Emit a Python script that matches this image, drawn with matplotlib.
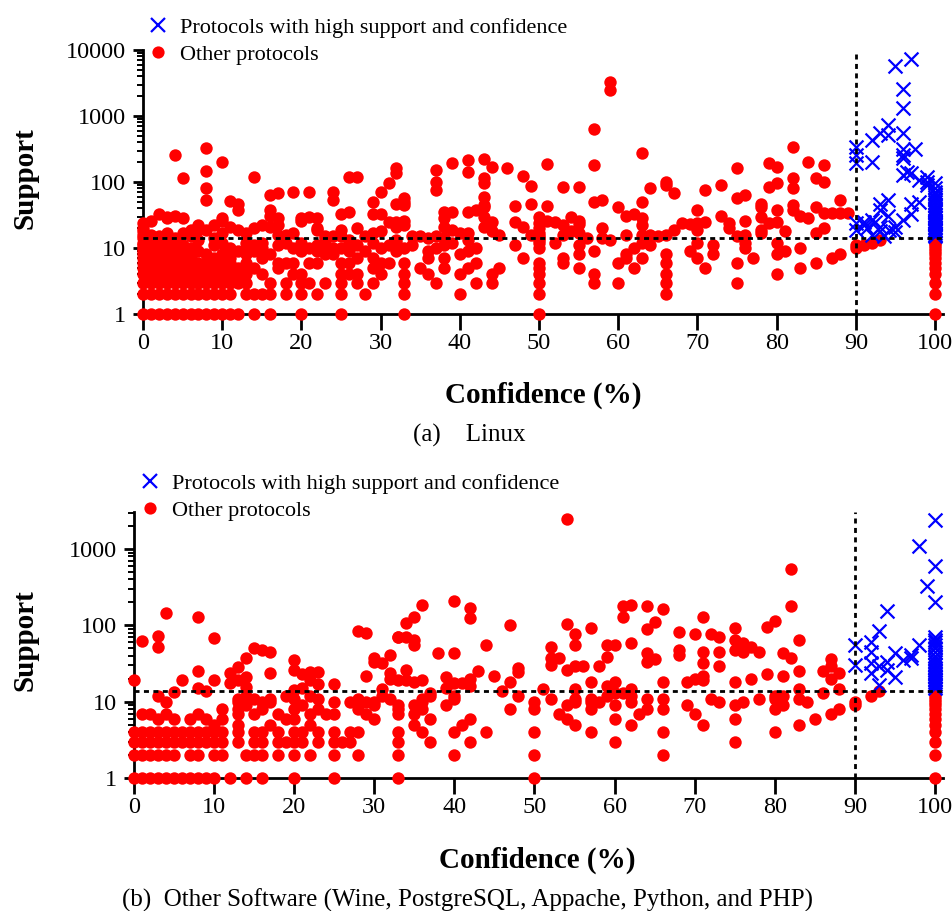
import matplotlib
matplotlib.use('Agg')
import matplotlib.pyplot as plt
from matplotlib.lines import Line2D
from matplotlib.ticker import FixedLocator, LogLocator, NullFormatter
import numpy as np

plt.rcParams['font.family'] = ['Liberation Serif', 'DejaVu Serif']

# ---------------- Linux (a) ----------------
# confidences of "other protocols" at low integer support values
lx_s1 = [0,1,2,3,4,5,6,7,8,9,10,11,12,14,16,20,25,33,50,100]
lx_s2 = [0,1,2,3,4,5,6,7,8,9,10,11,13,14,15,16,18,20,22,25,28,33,40,50,66,100]
lx_s3 = [0,1,2,3,4,5,6,7,8,9,10,11,12,13,16,18,20,21,23,25,27,29,33,37,42,44,50,57,60,66,75,100]
lx_s4 = [0,1,2,3,4,5,6,7,8,9,10,11,12,13,15,19,20,25,26,27,30,33,36,40,44,50,57,66,80,100]
lx_s5 = [0,1,2,3,4,5,6,7,8,9,10,11,12,14,17,29,35,38,41,45,50,55,62,71,83,100]
lx_s6 = [0,1,2,3,4,5,6,7,8,10,11,13,17,18,19,21,22,25,26,30,31,33,42,50,53,60,66,75,85,100]
lx_s7 = [0,1,2,3,4,5,6,9,11,15,27,29,36,38,48,53,61,63,70,77,87,100]
lx_s8 = [0,1,2,3,4,5,6,8,10,13,16,23,24,40,55,61,66,72,80,88,100]
lx_s9 = [0,1,2,3,4,5,6,7,12,14,20,22,26,28,32,36,41,57,69,81,100]
lx_s10 = [0,1,2,3,4,5,6,11,13,15,19,21,24,25,30,33,37,42,50,62,76,83,90,100]
lx_s11 = [0,1,3,5,9,14,17,20,22,27,31,34,38,47,55,64,72,90,91,100]
lx_s12 = [0,2,4,10,13,15,18,20,23,26,29,32,39,50,52,63,70,76,80,92,100]

# other protocols with higher support (confidence, support)
lx_hi_conf = [0,0,0,0,0,1,1,1,2,2,3,3,3,3,4,4,4,5,5,5,6,6,7,7,7,8,8,8,8,8,9,9,10,10,10,10,
              11,11,12,12,12,13,14,14,15,16,16,16,16,17,17,17,17,18,19,19,20,20,21,21,22,22,22,
              23,23,24,24,24,25,25,25,26,26,26,27,27,28,29,29,29,30,30,30,31,31,32,32,32,32,32,32,
              33,33,33,33,33,34,35,36,37,37,37,37,38,38,38,38,39,39,39,40,41,41,41,41,41,42,
              43,43,43,43,43,43,43,43,44,44,44,45,46,47,47,48,48,49,49,49,50,50,50,50,50,50,50,
              51,51,51,52,53,53,53,54,54,55,55,55,55,56,57,57,57,58,58,58,59,59,59,60,61,61,62,
              63,63,63,63,63,64,64,65,66,66,66,67,67,68,69,70,70,70,71,71,73,73,74,74,75,75,75,
              76,76,76,78,78,78,78,78,79,79,79,80,80,80,80,81,82,82,82,82,82,83,84,84,85,85,85,
              86,86,86,86,87,88,88,89,93,100]
lx_hi_sup = [14,16,18,20,24,14,16,26,15,33,13,17,28,30,14,31,257,17,28,115,19,15,19,22,13,19,324,148,80,53,22,14,26,28,203,17,
             21,51,19,47,38,17,20,120,22,21,63,38,31,28,67,22,16,16,71,17,26,28,30,71,28,20,19,
             15,14,71,53,15,33,19,15,35,120,13,20,120,15,50,17,33,33,71,18,95,25,162,135,47,25,21,13,
             50,26,57,45,22,15,15,14,15,152,101,75,35,28,21,14,191,35,19,17,215,143,35,17,13,38,
             220,113,95,60,45,42,30,21,170,25,18,16,161,44,25,123,21,88,47,16,30,24,20,17,15,14,13,
             190,44,26,25,85,22,16,29,18,85,26,23,17,14,181,630,50,53,20,14,3320,2500,13,42,31,16,33,
             271,50,28,22,16,80,16,15,101,90,16,67,19,24,23,38,24,19,75,25,90,31,24,20,161,57,15,
             63,26,16,47,42,30,19,17,191,85,24,170,97,38,25,18,344,113,80,45,38,31,202,28,113,42,17,
             181,101,34,20,34,53,34,34,13,13]

# protocols with high support and confidence
lx_top_conf = [97,95,96,96,94,93,94,92,90,90,90,92,96,96,96,96,97.5,96,96.5,97,99,100,99,
               94,93,93,94,92,91,90,97,98,97,96,90,91.4,93,94.2,93.5,95,92.4,93,91,92,95,98,99]
lx_top_sup = [7240,5750,2560,1310,730,545,520,430,344,255,191,202,545,314,255,228,314,127,143,135,120,95,90,
              53,47,38,31,27,25,24,47,50,33,27,19,20,21,19,15,17.6,25,18,22,16,21,108,100]
lx_top_at100 = [15,16,17,18,19,20,21,22,23,24,25,26,28,30,32,35,38,40,45,50,55,60,65,70,80]

# ---------------- Other software (b) ----------------
bo_s1 = [0,1,2,3,4,5,6,7,8,9,10,12,14,16,20,25,33,50,100]
bo_s2 = [0,1,2,3,4,5,7,8,10,11,14,15,16,18,20,22,25,28,33,40,50,66,100]
bo_s3 = [0,1,2,3,4,5,6,7,8,9,10,11,13,15,16,18,19,20,21,23,25,26,27,33,37,42,60,75,100]
bo_s4 = [0,1,2,3,4,5,6,7,8,9,10,11,13,15,16,18,20,21,23,25,27,28,33,36,40,44,50,57,66,80,100]
bo_s5 = [10,13,17,22,35,41,55,62,71,83,100]
bo_s6 = [3,5,7,9,11,19,20,30,37,42,54,60,75,85,100]
bo_s7 = [1,2,4,8,13,15,18,22,24,25,29,33,35,53,63,70,87,100]
bo_s8 = [11,13,16,20,23,28,33,36,47,50,57,64,66,80,88,100]
bo_s9 = [14,21,30,33,35,39,54,60,69,75,81,90,100]
bo_s10 = [4,13,16,17,25,27,28,29,30,36,50,55,57,58,62,73,76,84,90,100]
bo_s11 = [13,15,17,20,23,28,32,36,40,52,55,57,64,66,72,78,80,83,100]
bo_s12 = [3,14,19,22,31,37,40,48,59,62,80,81,92,100]

bo_hi_conf = [0,1,3,3,4,5,6,8,8,8,9,10,10,12,12,13,13,14,14,14,15,16,17,17,20,20,20,21,21,22,22,23,23,25,
              28,29,29,30,30,31,31,32,32,32,33,33,33,34,34,34,34,35,35,35,35,36,36,37,38,39,39,40,40,40,
              41,42,42,42,42,43,44,45,46,47,47,48,48,51,52,52,52,53,54,54,54,55,55,55,55,56,57,57,58,
              59,59,59,60,60,60,61,61,61,62,62,62,64,64,64,64,65,65,66,66,68,68,68,69,70,70,71,71,71,71,71,
              72,73,73,73,75,75,75,75,76,76,77,77,78,79,79,80,81,81,82,82,82,83,83,83,86,86,87,87,87,88,88,93,100]
bo_hi_sup = [19,63,72,52,147,13.5,19,130,25,15,14,69,19,23.5,17.4,28.8,19,37,21,15.7,50,47.6,45,23.5,35,26,14.3,23,15,24.5,19,24.5,17,17,
             85,80,21.6,33,37,32,14.5,41,24,20,70,19,71,71,108,26,19,127,64,55,18,185,19,13,43,21,15,209,43,17.4,
             17.4,168,124,20,16,25,55,22,14,101,18,27.5,24.6,14.5,52,37,30,37,2460,104,26,76,55,29,14.5,29,92,18,29,
             55,39,16,55,18,13,177,127,13,185,58,14.5,177,89,43,33,112,36,164,18,82,48,41,18,78,20,127,45,32,22,19,
             78,71,45,29,92,64,48,18,58,45,52,20,45,95,23,115,44,22,543,180,37,65,25,14.5,25,13,36,29,20,24,14.5,13.9,13]

bo_top_conf = [100,98,100,99,100,94,93,92,90,90,92,92,93,94,95,95,94,92,93,97,97,98,96]
bo_top_sup = [2410,1090,600,330,205,155,85,61,55,30,45,32,29,33,43,21,26,23.5,16.6,41,37,55,35]
bo_top_at100 = [15,16,17,18,19,20,21,22,24,26,28,30,33,36,40,45,50,55,60,65,70]

support_threshold = 14
confidence_threshold = 90


def gather(rows, hi_conf, hi_sup):
    c, s = [], []
    for sup, confs in rows:
        c += list(confs)
        s += [sup] * len(confs)
    c += list(hi_conf)
    s += list(hi_sup)
    return np.array(c, float), np.array(s, float)


lx_rows = [(1, lx_s1), (2, lx_s2), (3, lx_s3), (4, lx_s4), (5, lx_s5), (6, lx_s6), (7, lx_s7),
           (8, lx_s8), (9, lx_s9), (10, lx_s10), (11, lx_s11), (12, lx_s12)]
bo_rows = [(1, bo_s1), (2, bo_s2), (3, bo_s3), (4, bo_s4), (5, bo_s5), (6, bo_s6), (7, bo_s7),
           (8, bo_s8), (9, bo_s9), (10, bo_s10), (11, bo_s11), (12, bo_s12)]

lx_c, lx_s = gather(lx_rows, lx_hi_conf, lx_hi_sup)
bo_c, bo_s = gather(bo_rows, bo_hi_conf, bo_hi_sup)
lx_tc = np.array(lx_top_conf + [100] * len(lx_top_at100), float)
lx_ts = np.array(lx_top_sup + lx_top_at100, float)
bo_tc = np.array(bo_top_conf + [100] * len(bo_top_at100), float)
bo_ts = np.array(bo_top_sup + bo_top_at100, float)

W, H = 952, 911
fig = plt.figure(figsize=(W / 100, H / 100), dpi=100)
ax1 = fig.add_axes([143 / W, 1 - 314 / H, 800 / W, 264 / H])
ax2 = fig.add_axes([134 / W, 1 - 778 / H, 809 / W, 266 / H])

FS_TICK = 17.5
FS_LAB = 21
FS_LEG = 16
DASH = (0, (1.8, 1.6))

for ax, c, s, tc, ts, ytop in [(ax1, lx_c, lx_s, lx_tc, lx_ts, 10000),
                               (ax2, bo_c, bo_s, bo_tc, bo_ts, 3060)]:
    ax.scatter(c, s, s=80, c='#ff0000', marker='o', linewidths=0, clip_on=False, zorder=3)
    ax.scatter(tc, ts, s=100, c='#0000ff', marker='x', linewidths=1.6, clip_on=False, zorder=3.5)
    ax.plot([0, 101], [support_threshold, support_threshold], color='black', lw=2,
            ls=DASH, zorder=4, clip_on=False)
    ax.plot([confidence_threshold, confidence_threshold], [1, ytop], color='black', lw=2,
            ls=DASH, zorder=4, clip_on=False)
    ax.set_yscale('log')
    ax.set_xlim(0, 101)
    ax.set_ylim(1, ytop)
    for sp in ['top', 'right']:
        ax.spines[sp].set_visible(False)
    for sp in ['left', 'bottom']:
        ax.spines[sp].set_linewidth(2)
    ax.xaxis.set_major_locator(FixedLocator(list(range(0, 101, 10))))
    ax.set_xticklabels([str(v) for v in range(0, 101, 10)])
    ax.yaxis.set_minor_locator(LogLocator(base=10, subs=np.arange(2, 10), numticks=20))
    ax.yaxis.set_minor_formatter(NullFormatter())
    ax.set_yticks([v for v in [1, 10, 100, 1000, 10000] if v <= ytop])
    ax.set_yticklabels([str(v) for v in [1, 10, 100, 1000, 10000] if v <= ytop])
    ax.tick_params(axis='x', which='major', direction='out', length=11.5, width=2,
                   labelsize=FS_TICK, pad=2)
    ax.tick_params(axis='y', which='major', direction='out', length=7.5, width=2,
                   labelsize=FS_TICK, pad=4.5)
    ax.tick_params(axis='y', which='minor', direction='out', length=4.5, width=1.4)
    ax.set_ylabel('Support', fontsize=FS_LAB, fontweight='bold', va='center')
    ax.set_xlabel('Confidence (%)', fontsize=FS_LAB, fontweight='bold', va='center')

ax1.yaxis.set_label_coords((25 - 143) / 800, 0.515)
ax2.yaxis.set_label_coords((25 - 134) / 809, 0.519)
ax1.xaxis.set_label_coords((543 - 143) / 800, (314 - 395) / 264)
ax2.xaxis.set_label_coords((537 - 134) / 809, (778 - 860) / 266)

handles = [Line2D([], [], marker='x', color='#0000ff', ls='none', markersize=10, markeredgewidth=1.6),
           Line2D([], [], marker='o', color='#ff0000', ls='none', markersize=8.8, markeredgewidth=0)]
labels = ['Protocols with high support and confidence', 'Other protocols']

for ax, x0, y0 in [(ax1, 147, 17), (ax2, 139, 473)]:
    ax.legend(handles, labels, loc='upper left', bbox_to_anchor=(x0 / W, 1 - y0 / H),
              bbox_transform=fig.transFigure, frameon=False, fontsize=FS_LEG,
              handlelength=1.0, handletextpad=0.5, labelspacing=0.29,
              borderaxespad=0, borderpad=0)

fig.text(469 / W, 1 - 435 / H, '(a)    Linux', fontsize=18, ha='center', va='center')
fig.text(467 / W, 1 - 900 / H,
         '(b)  Other Software (Wine, PostgreSQL, Appache, Python, and PHP)',
         fontsize=18, ha='center', va='center')

fig.savefig('out.png', dpi=100)
